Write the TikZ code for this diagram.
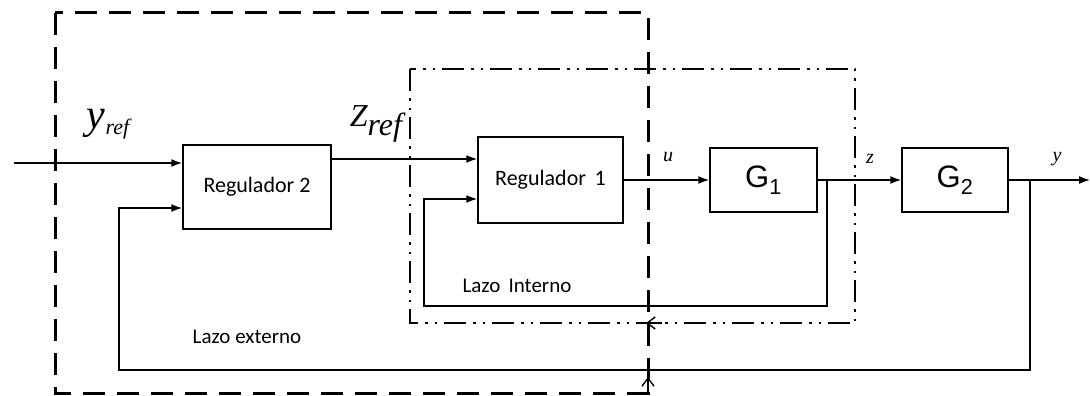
\documentclass[tikz,border=0pt]{standalone}
\usepackage{fontspec}
\setmainfont{Carlito}
\newfontfamily\arialf{Liberation Sans}
\newfontfamily\timesf{Liberation Serif}
\usetikzlibrary{arrows.meta}
\tikzset{
	blk/.style={draw,line width=1.5pt,fill=white,font=\fontsize{22}{24}\selectfont},
	gblk/.style={draw,line width=1.5pt,fill=white,font=\arialf\fontsize{31}{33}\selectfont},
	sig/.style={line width=1.6pt,-{Latex[length=11pt,width=8pt]}},
	lbl/.style={font=\timesf\itshape\fontsize{20}{22}\selectfont},
	outerloop/.style={line width=3pt,dash pattern=on 22pt off 12pt},
	innerloop/.style={line width=2.6pt,dash pattern=on 22pt off 7pt on 2.5pt off 7pt on 2.5pt off 7pt},
	crossmark/.style={line width=1.4pt,-{Straight Barb[length=8pt,width=12pt]}}
}
\begin{document}
\begin{tikzpicture}[x=1pt,y=-1pt]
	\useasboundingbox (0,0) rectangle (1090,396);
	%%%%%%%% blocks
	\node[blk,minimum width=148pt,minimum height=84pt] (reg2) at (257,187) {Regulador 2};
	\node[blk,minimum width=145pt,minimum height=86pt] (reg1) at (550.5,180) {Regulador \,1};
	\node[gblk,minimum width=107pt,minimum height=64pt] (g1) at (763.5,180) {G\textsubscript{1}};
	\node[gblk,minimum width=106pt,minimum height=64pt] (g2) at (955,180) {G\textsubscript{2}};
	%%%%%%%% loop frames
	\draw[outerloop] (55,13) rectangle (648,393);
	\draw[innerloop] (410,69) rectangle (855,323);
	\draw[crossmark] (662,323) -- (646,323);
	\draw[crossmark] (648,393) -- (648,377);
	%%%%%%%% points
	\coordinate (in) at (14,163);
	\coordinate (out) at (1090,180);
	\coordinate (zb) at (827,180);
	\coordinate (yb) at (1030,180);
	\coordinate (fi) at (827,306);
	\coordinate (fo) at (1030,370);
	%%%%%%%% signals
	\draw[sig] (in) -- (in -| reg2.west);
	\draw[sig] (reg2.east |- 0,159) -- (reg1.west |- 0,159);
	\draw[sig] (reg1.east) -- (g1.west);
	\draw[sig] (g1.east) -- (g2.west);
	\draw[sig] (g2.east) -- (out);
	\draw[sig] (zb) -- (fi) -- (424,306) |- (reg1.west |- 0,199);
	\draw[sig] (yb) -- (fo) -- (119,370) |- (reg2.west |- 0,208);
	%%%%%%%% labels
	\node[font=\timesf\itshape\fontsize{42}{44}\selectfont] (yref) at (108,124) {y\raisebox{-6pt}{\fontsize{22}{24}\selectfont ref}};
	\node[font=\timesf\itshape\fontsize{32}{34}\selectfont] (zref) at (376,124) {Z\raisebox{-9pt}{\fontsize{32}{34}\selectfont ref}};
	\node[lbl] (ulbl) at (668,157) {u};
	\node[lbl] (zlbl) at (870,159) {z};
	\node[lbl] (ylbl) at (1057,159) {y};
	\node[font=\fontsize{21}{23}\selectfont] (inner) at (517,286) {Lazo \,Interno};
	\node[font=\fontsize{21}{23}\selectfont] (outer) at (247,337) {Lazo externo};
\end{tikzpicture}
\end{document}
